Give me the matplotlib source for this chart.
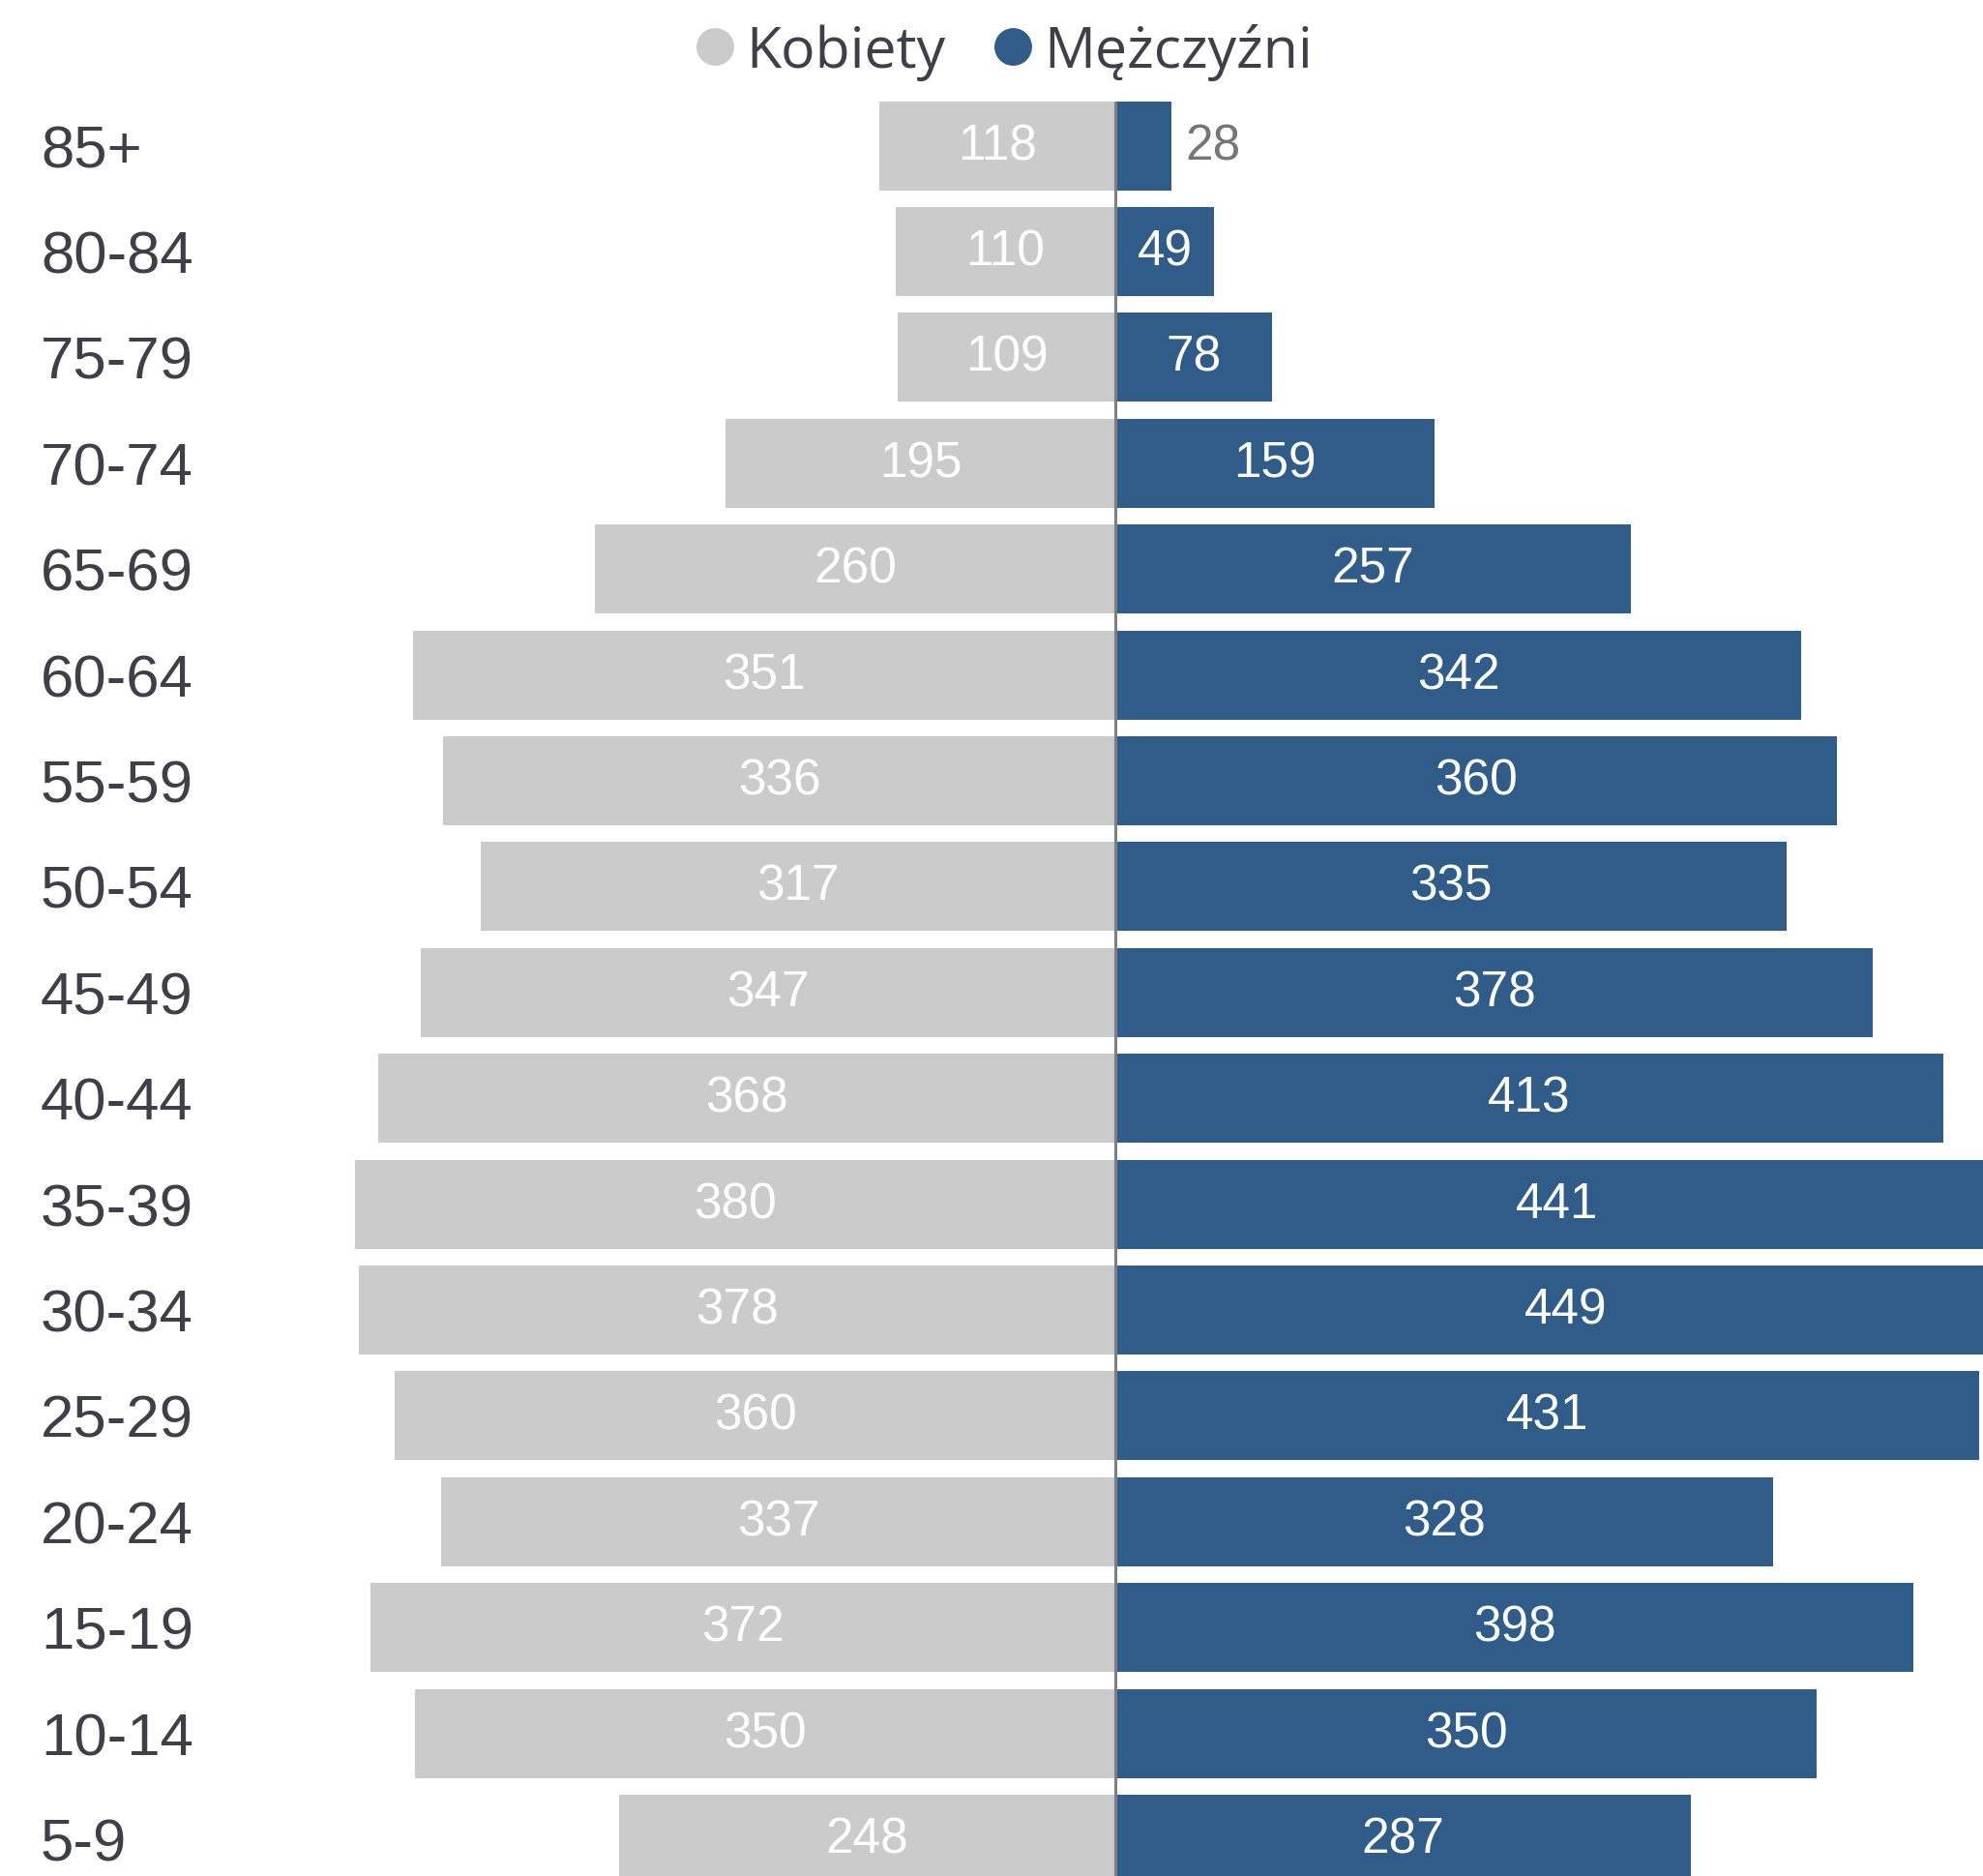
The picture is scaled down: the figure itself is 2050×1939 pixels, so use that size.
import matplotlib
matplotlib.use("Agg")
import matplotlib.pyplot as plt
import matplotlib.transforms as mtrans
from matplotlib.lines import Line2D

# age groups, top to bottom as in the picture
ages = ["85+", "80-84", "75-79", "70-74", "65-69", "60-64", "55-59", "50-54",
        "45-49", "40-44", "35-39", "30-34", "25-29", "20-24", "15-19", "10-14", "5-9"]
kobiety = [118, 110, 109, 195, 260, 351, 336, 317, 347, 368, 380, 378, 360, 337, 372, 350, 248]
mezczyzni = [28, 49, 78, 159, 257, 342, 360, 335, 378, 413, 441, 449, 431, 328, 398, 350, 287]

grey = "#CBCBCB"
blue = "#2F5C89"
dark = "#3F3F4A"
bar_h = 0.84

fig = plt.figure(figsize=(20.5, 19.4), dpi=100)
ax = fig.add_axes([0, 0, 1, 1])

n = len(ages)
ypos = [n - 1 - i for i in range(n)]  # 85+ on top

ax.barh(ypos, [-v for v in kobiety], height=bar_h, color=grey, left=0)
ax.barh(ypos, mezczyzni, height=bar_h, color=blue, left=0)
# centre line only from the top bar downwards
ax.vlines(0, -1, max(ypos) + bar_h / 2, color="#7F7F7F", lw=2.2, zorder=3)

# value labels
num_font = ["Liberation Sans Narrow", "Liberation Sans"]
for y, k, m in zip(ypos, kobiety, mezczyzni):
    ax.text(-k / 2, y, str(k), ha="center", va="center", color="white",
            fontsize=37, family=num_font)
    if m < 40:
        ax.text(m + 7, y, str(m), ha="left", va="center", color="#767676",
                fontsize=37, family=num_font)
    else:
        ax.text(m / 2, y, str(m), ha="center", va="center", color="white",
                fontsize=37, family=num_font)

# age labels on the left, fixed pixel x
left_tr = mtrans.blended_transform_factory(mtrans.IdentityTransform(), ax.transData)
for y, a in zip(ypos, ages):
    ax.text(42, y - 0.055, a, transform=left_tr, ha="left", va="center", color=dark,
            fontsize=44.5, family="Liberation Sans")

ax.set_xlim(-557, 433)
ax.set_ylim(-0.347, 17.386)
ax.axis("off")

handles = [Line2D([], [], marker="o", ls="", color=grey, markersize=27),
           Line2D([], [], marker="o", ls="", color=blue, markersize=27)]
leg = ax.legend(handles, ["Kobiety", "Mężczyźni"], loc="center",
                bbox_to_anchor=(0.5 + 8 / 2050, 1 - 54 / 1940), ncol=2, frameon=False,
                handletextpad=0.05, columnspacing=0.68, handlelength=1.0,
                prop={"family": "Open Sans", "size": 42.5})
for t in leg.get_texts():
    t.set_color(dark)

fig.savefig("out.png", dpi=100)
